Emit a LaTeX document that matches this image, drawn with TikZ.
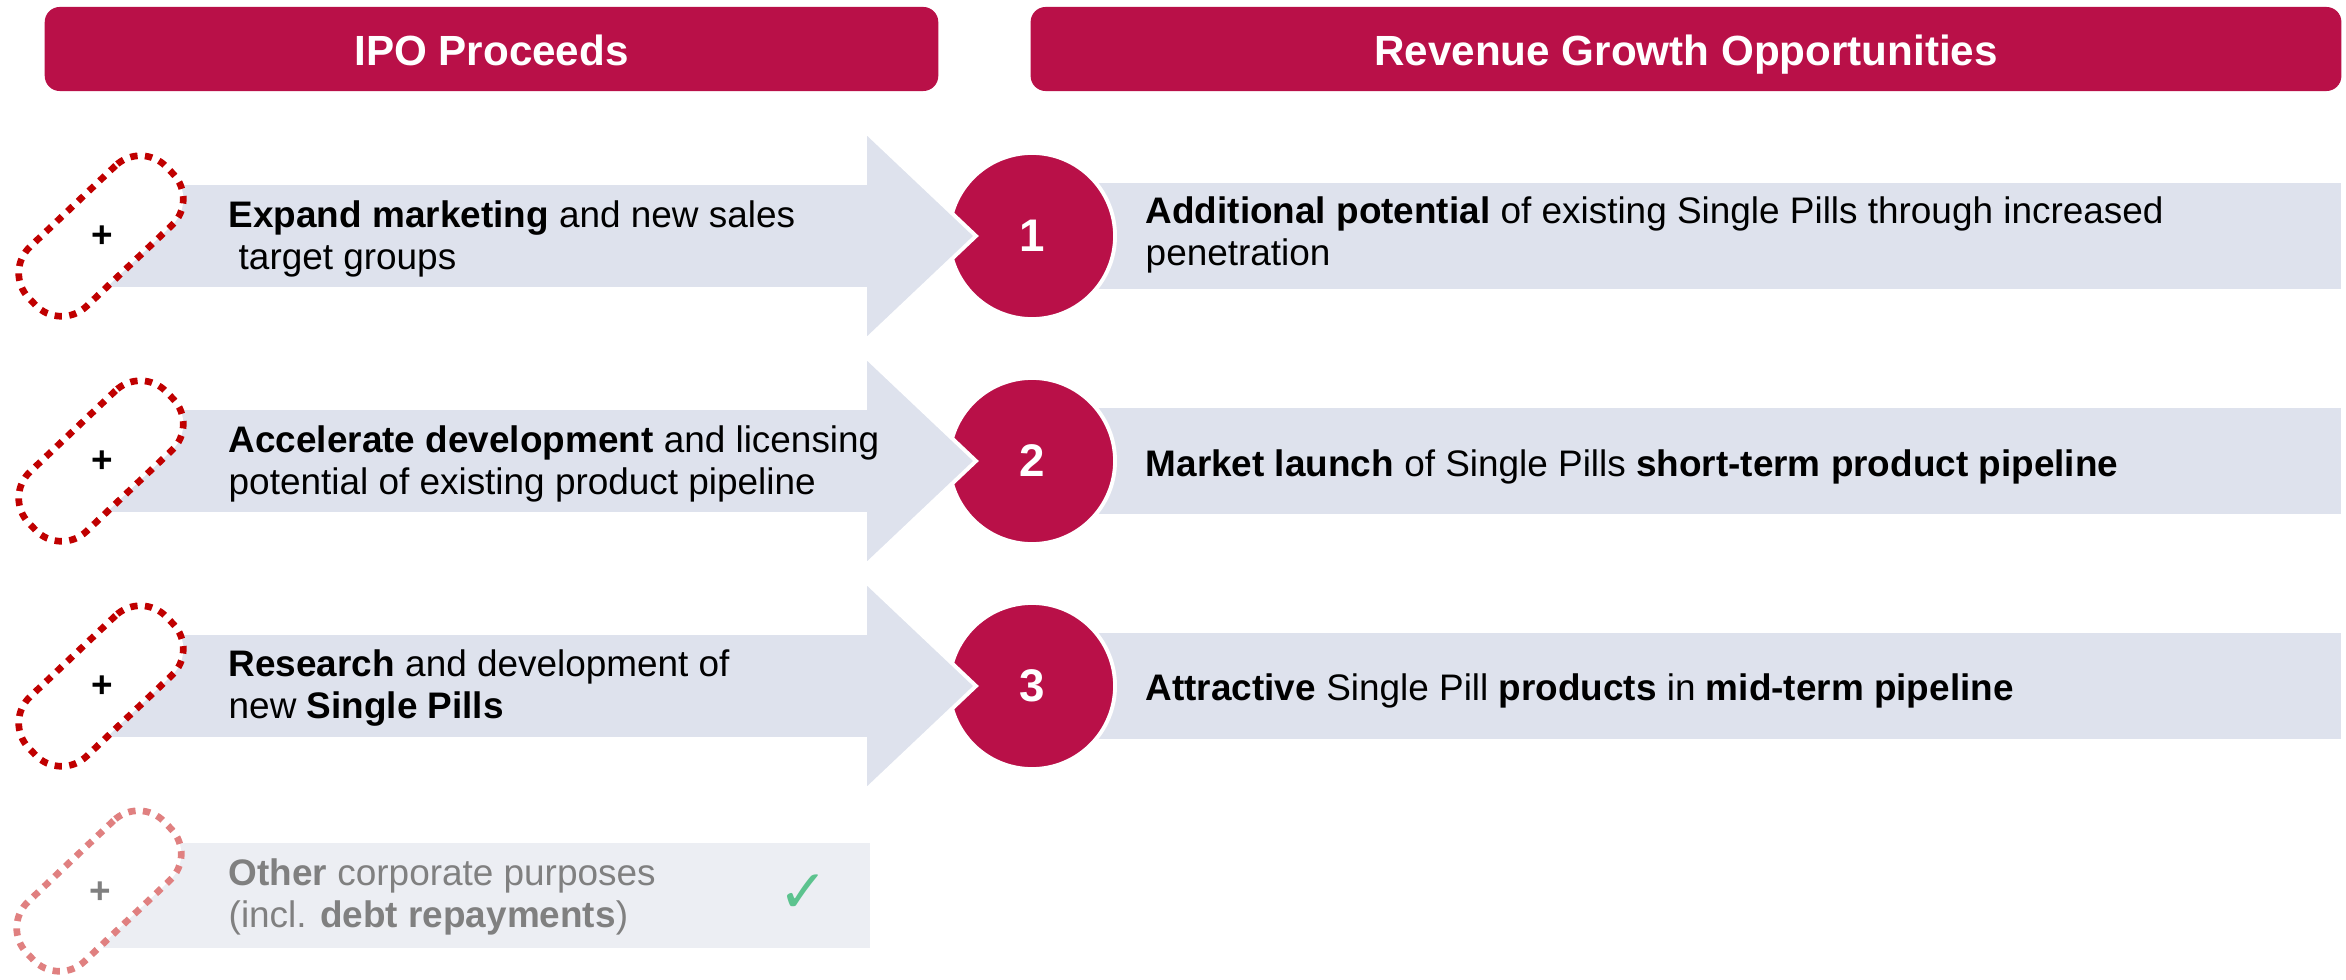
\documentclass[tikz,border=0pt]{standalone}
\usepackage{fontspec}
\setmainfont{Liberation Sans}
\newfontfamily\symfont{DejaVu Sans}
\definecolor{crimson}{RGB}{185,16,72}
\definecolor{arrowfill}{RGB}{222,226,237}
\definecolor{lightfill}{RGB}{236,238,243}
\definecolor{pillred}{RGB}{192,0,0}
\definecolor{pilllight}{RGB}{224,128,128}
\definecolor{greytext}{RGB}{128,128,128}
\definecolor{checkgreen}{RGB}{92,195,142}
\tikzset{
  header/.style={fill=crimson, rounded corners=0.15cm, text=white, inner sep=0,
    font=\fontsize{12}{14}\selectfont\bfseries, minimum height=0.84cm,
    text height=0.33cm, text depth=0cm},
  numcircle/.style={circle, fill=crimson, draw=white, line width=1.1pt, minimum size=1.66cm,
    inner sep=0, text=white, font=\fontsize{13}{15}\selectfont\bfseries},
  bigarrow/.style={fill=arrowfill, draw=white, line width=1.1pt, line join=miter},
  pillbase/.style={rectangle, rounded corners=0.36cm, minimum width=1.90cm, minimum height=0.82cm,
    rotate=43.5, inner sep=0, fill=white},
  pilldots/.style={pillbase, draw=pillred, line width=1.9pt, dash pattern=on 2.1pt off 2.1pt},
  pilldotslight/.style={pillbase, draw=pilllight, line width=1.9pt, dash pattern=on 2.1pt off 2.1pt},
  plussign/.style={font=\fontsize{10.5}{12}\selectfont\bfseries, inner sep=0},
  lefttext/.style={anchor=west, align=left, inner sep=0, font=\fontsize{10.5}{11.7}\selectfont},
  righttext/.style={anchor=west, align=left, inner sep=0, font=\fontsize{10.5}{11.7}\selectfont},
  rightline/.style={anchor=base west, inner sep=0, font=\fontsize{10.5}{11.7}\selectfont},
}
\begin{document}
\begin{tikzpicture}[x=0.01cm, y=-0.01cm]
\useasboundingbox (0,0) rectangle (2346,979);

% headers
\node[header, minimum width=8.93cm] (h1) at (491.5,49) {IPO Proceeds};
\node[header, minimum width=13.10cm] (h2) at (1686,49) {Revenue Growth Opportunities};

% rows 1-3
\foreach \y/\n in {236/1,461/2,686/3}{
  \fill[arrowfill] (1032,{\y-53}) rectangle (2341,{\y+53});
  \node[numcircle] (c\n) at (1032,\y) {\n};
  \draw[bigarrow] (103,{\y-53}) -- (865,{\y-53}) -- (865,{\y-105}) -- (976,\y)
     -- (865,{\y+105}) -- (865,{\y+53}) -- (103,{\y+53}) -- cycle;
  \node[pilldots] (p\n) at (101,\y) {};
  \node[plussign] (plus\n) at (102,{\y+1}) {+};
}

% left texts
\node[lefttext] (t1) at (228,239) {\textbf{Expand marketing} and new sales\\\hspace{0.1cm}target groups};
\node[lefttext] (t2) at (228,464) {\textbf{Accelerate development} and licensing\\potential of existing product pipeline};
\node[lefttext] (t3) at (228,688) {\textbf{Research} and development of\\new \textbf{Single Pills}};

% right texts
\node[righttext] (r1) at (1145,235) {\textbf{Additional potential} of existing Single Pills through increased\\penetration};
\node[rightline] (r2) at (1145,476) {\textbf{Market launch} of Single Pills \textbf{short-term product pipeline}};
\node[rightline] (r3) at (1145,700) {\textbf{Attractive} Single Pill \textbf{products} in \textbf{mid-term pipeline}};

% row 4
\fill[lightfill] (103,843) rectangle (870,948);
\node[pilldotslight] (p4) at (99,891) {};
\node[plussign, text=greytext] (plus4) at (100,893) {+};
\node[lefttext, text=greytext] (t4) at (228,897) {\textbf{Other} corporate purposes\\(incl. \textbf{debt repayments})};
\node[text=checkgreen, inner sep=0, font=\symfont\fontsize{17}{17}\selectfont] (chk) at (804,894) {✓};
\end{tikzpicture}
\end{document}
